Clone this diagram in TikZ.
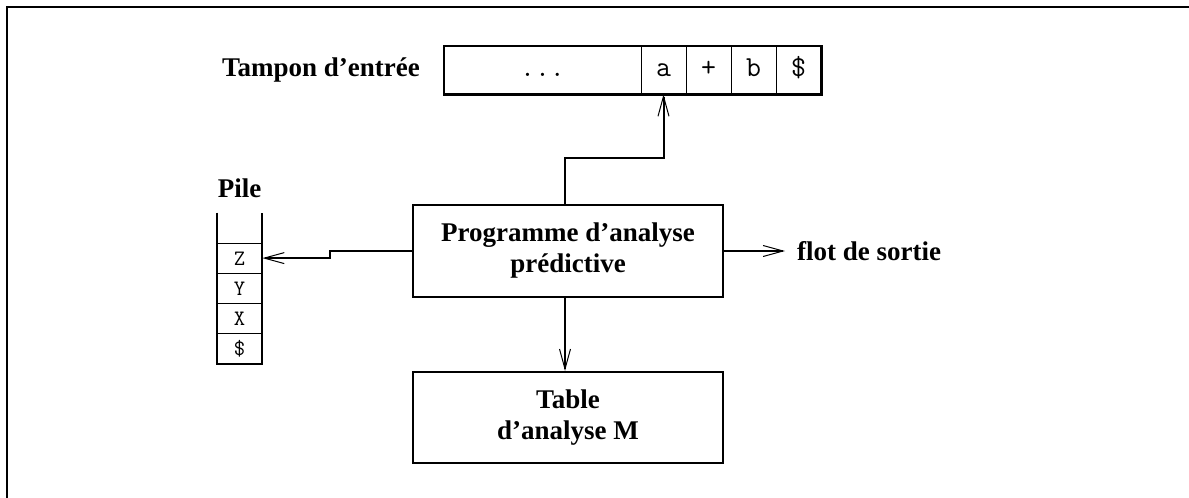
\documentclass[tikz,border=0pt]{standalone}
\usepackage{fontspec}
\setmainfont{Liberation Serif}
\usetikzlibrary{arrows.meta,calc}

\begin{document}
\begin{tikzpicture}[x=1pt,y=-1pt,
  lbl/.style={font=\fontsize{27}{31}\selectfont\bfseries, inner sep=0pt},
  box/.style={draw, line width=2.2pt, align=center, minimum width=310pt,
    inner sep=0pt, font=\fontsize{27}{31}\selectfont\bfseries},
  bufcell/.style={draw, line width=0.8pt, minimum height=48pt, inner sep=0pt,
    text height=12.5pt, text depth=0pt, font=\ttfamily\fontsize{29}{29}\selectfont},
  pilecell/.style={draw, line width=0.8pt, minimum width=45pt, minimum height=30.25pt,
    inner sep=0pt, text height=14pt, text depth=0pt,
    font=\ttfamily\fontsize{22}{22}\selectfont},
  thickline/.style={line width=2.2pt},
  conn/.style={line width=2pt},
  arr/.style={conn, -{Straight Barb[length=20pt,width=11pt,line width=1pt]}},
]
\useasboundingbox (0,0) rectangle (1189,498);

% outer frame
\draw[thickline] (7,498) -- (7,7) -- (1189,7);

% input buffer
\node[lbl, anchor=east] (tampon) at (420,70) {Tampon d’entrée};
\node[bufcell, minimum width=197pt] (cdots) at (542.5,70) {...};
\node[bufcell, minimum width=45pt] (ca) at (663.5,70) {a};
\node[bufcell, minimum width=45pt] (cplus) at (708.5,70) {+};
\node[bufcell, minimum width=45pt] (cb) at (753.5,70) {b};
\node[bufcell, minimum width=45pt] (cdol) at (798.5,70) {\$};
\draw[thickline] (cdots.north west) rectangle (cdol.south east);

% stack
\node[lbl] (pile) at (239.5,188) {Pile};
\node[pilecell] (cz) at (239.5,258.1) {Z};
\node[pilecell] (cy) at (239.5,288.4) {Y};
\node[pilecell] (cx) at (239.5,318.6) {X};
\node[pilecell] (cs) at (239.5,348.9) {\$};
\draw[conn] ([shift={(0,-30)}]cz.north west) -- (cs.south west)
  -| (cz.north east) -- ++(0,-30);

% driver program and parsing table
\node[box, minimum height=92pt] (prog) at (568,251) {Programme d’analyse\\prédictive};
\node[box, minimum height=91pt] (tab) at (568,417.5) {Table\\d’analyse M};

% output
\node[lbl, anchor=west] (out) at (797,251) {flot de sortie};

% connectors
\draw[arr] ([xshift=-3pt]prog.north) -- ++(0,-46) -| (ca.south);
\draw[arr] (prog.west) -- ++(-82,0) |- (cz.east);
\draw[arr] ([xshift=-3pt]prog.south) -- ([xshift=-3pt]tab.north);
\draw[arr, shorten >=12pt] (prog.east) -- (out.west);
\end{tikzpicture}
\end{document}
